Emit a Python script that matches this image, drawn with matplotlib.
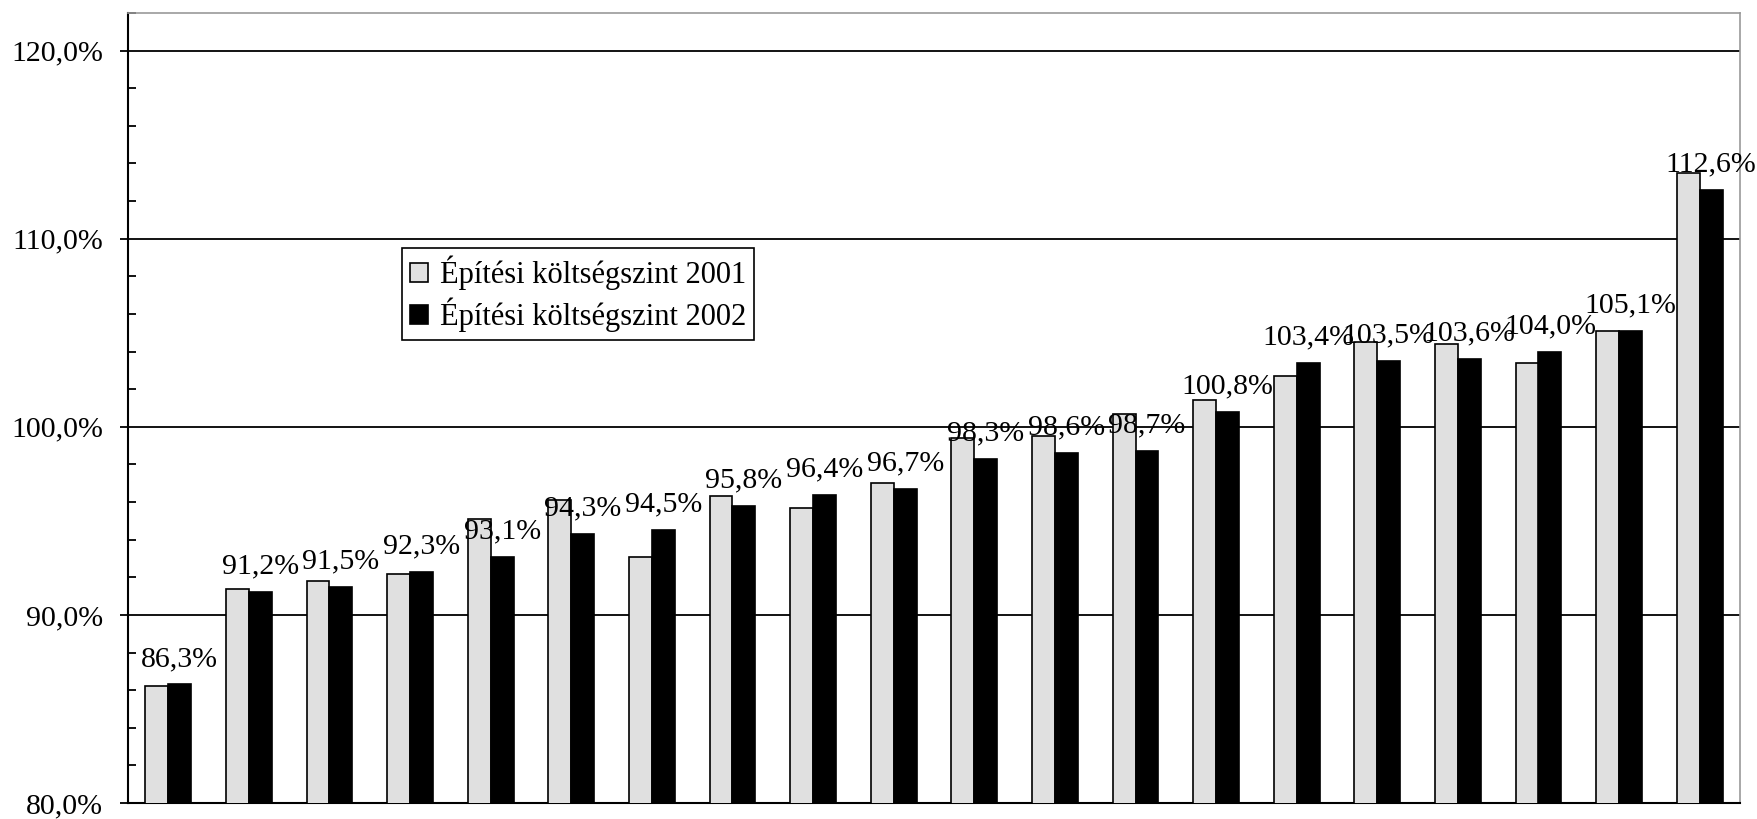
import numpy as np
import matplotlib
matplotlib.use("Agg")
import matplotlib.pyplot as plt
from matplotlib.ticker import MultipleLocator, FuncFormatter

plt.rcParams['font.family'] = ['Liberation Serif', 'DejaVu Serif']

# Építési költségszint, 20 kategória (a kategórianevek nem látszanak az ábrán)
szint_2001 = [86.2, 91.4, 91.8, 92.2, 95.1, 96.1, 93.1, 96.3, 95.7, 97.0,
              99.4, 99.5, 100.7, 101.4, 102.7, 104.5, 104.4, 103.4, 105.1, 113.5]
szint_2002 = [86.3, 91.2, 91.5, 92.3, 93.1, 94.3, 94.5, 95.8, 96.4, 96.7,
              98.3, 98.6, 98.7, 100.8, 103.4, 103.5, 103.6, 104.0, 105.1, 112.6]
nevek = ["Építési költségszint 2001", "Építési költségszint 2002"]

x = np.arange(len(szint_2001)); w = 0.285
fig = plt.figure(figsize=(17.58, 8.19), dpi=100)
ax = fig.add_axes([128/1758, 1 - 803/819, (1740-128)/1758, (803-13)/819])

ax.yaxis.grid(True, color="black", lw=1.3)
ax.set_axisbelow(True)
b1 = ax.bar(x - w/2, szint_2001, w, color="#e0e0e0", edgecolor="black", lw=1.2, label=nevek[0], zorder=3)
b2 = ax.bar(x + w/2, szint_2002, w, color="black", edgecolor="black", lw=1.2, label=nevek[1], zorder=3)
for b, v in zip(b2, szint_2002):
    ax.annotate(f"{v:.1f}%".replace(".", ","), (b.get_x() + b.get_width()/2, v),
                xytext=(0, 9), textcoords="offset points", ha="center", va="bottom",
                fontsize=21.5, zorder=4)

ax.set_xlim(-0.5, len(x) - 0.5); ax.set_ylim(80, 122)
ax.set_xticks([])
ax.yaxis.set_major_locator(MultipleLocator(10))
ax.yaxis.set_minor_locator(MultipleLocator(2))
ax.yaxis.set_major_formatter(FuncFormatter(lambda v, p: f"{v:.1f}%".replace(".", ",")))
ax.tick_params(axis="y", which="major", direction="out", length=6, width=1.3, labelsize=21.5, pad=12)
ax.tick_params(axis="y", which="minor", direction="in", length=6, width=1.3)
for s in ("left", "bottom"):
    ax.spines[s].set_color("black"); ax.spines[s].set_linewidth(1.5)
for s in ("top", "right"):
    ax.spines[s].set_color("#999999"); ax.spines[s].set_linewidth(1.2)

leg = ax.legend(loc="upper left", bbox_to_anchor=(402/1758, 1 - 248/819), bbox_transform=fig.transFigure,
                borderaxespad=0, fontsize=22, frameon=True, fancybox=False, edgecolor="black", framealpha=1,
                handlelength=0.6, handleheight=0.6, handletextpad=0.4, borderpad=0.25, labelspacing=0.25)
leg.get_frame().set_linewidth(1.2)

fig.savefig("out.png", dpi=100)
print("saved out.png")
